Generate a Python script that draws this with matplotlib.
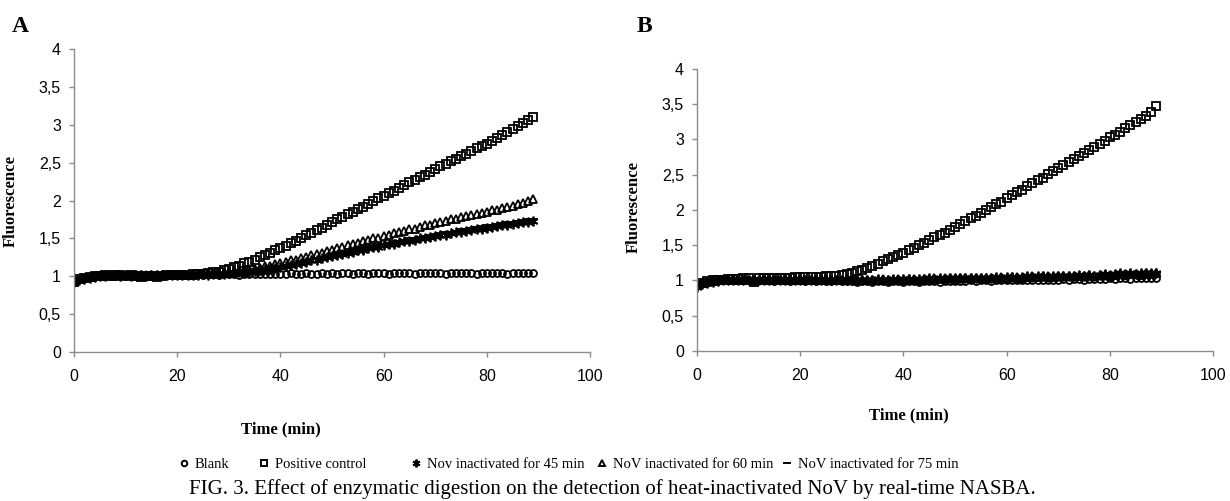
import matplotlib
matplotlib.use('Agg')
import matplotlib.pyplot as plt
from matplotlib.lines import Line2D

# readings every minute, 0..89 min
time_min = list(range(0, 90))

a_blank = [0.95, 0.97, 0.98, 0.99, 1.00, 1.00, 1.01, 1.01, 1.01, 1.02,
           1.01, 1.02, 1.01, 1.02, 1.02, 1.01, 1.02, 1.02, 1.02, 1.02,
           1.02, 1.03, 1.02, 1.02, 1.03, 1.02, 1.03, 1.03, 1.02, 1.03,
           1.03, 1.03, 1.02, 1.03, 1.03, 1.03, 1.03, 1.03, 1.03, 1.03,
           1.03, 1.03, 1.04, 1.03, 1.03, 1.04, 1.03, 1.03, 1.04, 1.03,
           1.04, 1.03, 1.04, 1.04, 1.03, 1.04, 1.04, 1.03, 1.04, 1.04,
           1.04, 1.03, 1.04, 1.04, 1.04, 1.04, 1.03, 1.04, 1.04, 1.04,
           1.04, 1.04, 1.03, 1.04, 1.04, 1.04, 1.04, 1.04, 1.03, 1.04,
           1.04, 1.04, 1.04, 1.04, 1.03, 1.04, 1.04, 1.04, 1.04, 1.04]
a_positive = [0.93, 0.96, 0.98, 0.99, 1.00, 1.00, 1.01, 1.00, 1.01, 1.01,
              1.00, 1.01, 1.00, 0.99, 1.00, 1.00, 0.99, 1.00, 1.01, 1.01,
              1.02, 1.02, 1.02, 1.03, 1.03, 1.03, 1.04, 1.05, 1.06, 1.08,
              1.10, 1.12, 1.14, 1.17, 1.19, 1.22, 1.25, 1.28, 1.31, 1.34,
              1.37, 1.40, 1.44, 1.47, 1.50, 1.54, 1.57, 1.61, 1.64, 1.68,
              1.71, 1.75, 1.78, 1.82, 1.85, 1.89, 1.92, 1.96, 1.99, 2.03,
              2.06, 2.10, 2.13, 2.17, 2.20, 2.24, 2.27, 2.31, 2.34, 2.38,
              2.41, 2.45, 2.48, 2.52, 2.55, 2.59, 2.62, 2.65, 2.69, 2.72,
              2.75, 2.79, 2.83, 2.87, 2.90, 2.94, 2.98, 3.02, 3.06, 3.10]
a_inact45 = [0.92, 0.95, 0.97, 0.98, 0.99, 1.00, 1.00, 1.01, 1.01, 1.00,
             1.01, 1.00, 1.01, 1.01, 1.00, 1.01, 1.01, 1.02, 1.01, 1.02,
             1.02, 1.01, 1.02, 1.02, 1.02, 1.03, 1.02, 1.03, 1.03, 1.03,
             1.04, 1.04, 1.05, 1.05, 1.06, 1.07, 1.08, 1.09, 1.10, 1.11,
             1.12, 1.14, 1.15, 1.16, 1.18, 1.19, 1.21, 1.22, 1.24, 1.25,
             1.27, 1.28, 1.30, 1.31, 1.32, 1.34, 1.35, 1.37, 1.38, 1.39,
             1.41, 1.42, 1.43, 1.45, 1.46, 1.47, 1.48, 1.50, 1.51, 1.52,
             1.53, 1.54, 1.55, 1.57, 1.58, 1.59, 1.60, 1.61, 1.62, 1.63,
             1.64, 1.65, 1.66, 1.67, 1.68, 1.69, 1.70, 1.71, 1.72, 1.73]
a_inact60 = [0.94, 0.96, 0.98, 0.99, 1.00, 1.00, 1.01, 1.01, 1.00, 1.01,
             1.01, 1.01, 1.00, 1.01, 1.01, 1.01, 1.01, 1.02, 1.01, 1.02,
             1.02, 1.02, 1.02, 1.02, 1.03, 1.03, 1.03, 1.03, 1.04, 1.04,
             1.05, 1.06, 1.07, 1.08, 1.09, 1.10, 1.11, 1.13, 1.14, 1.16,
             1.17, 1.19, 1.21, 1.22, 1.24, 1.26, 1.28, 1.30, 1.31, 1.33,
             1.35, 1.37, 1.39, 1.41, 1.42, 1.44, 1.46, 1.48, 1.50, 1.51,
             1.53, 1.55, 1.57, 1.58, 1.60, 1.62, 1.63, 1.65, 1.67, 1.68,
             1.70, 1.72, 1.73, 1.75, 1.76, 1.78, 1.79, 1.81, 1.82, 1.84,
             1.85, 1.87, 1.88, 1.90, 1.91, 1.93, 1.95, 1.97, 1.99, 2.02]
a_inact75 = [0.93, 0.96, 0.97, 0.99, 0.99, 1.00, 1.00, 1.01, 1.01, 1.01,
             1.01, 1.01, 1.01, 1.02, 1.01, 1.02, 1.02, 1.01, 1.02, 1.02,
             1.02, 1.02, 1.03, 1.02, 1.03, 1.03, 1.03, 1.04, 1.04, 1.04,
             1.05, 1.05, 1.06, 1.07, 1.08, 1.08, 1.09, 1.10, 1.12, 1.13,
             1.14, 1.15, 1.17, 1.18, 1.20, 1.21, 1.23, 1.24, 1.26, 1.27,
             1.29, 1.30, 1.32, 1.33, 1.35, 1.36, 1.37, 1.39, 1.40, 1.42,
             1.43, 1.44, 1.46, 1.47, 1.48, 1.50, 1.51, 1.52, 1.53, 1.55,
             1.56, 1.57, 1.58, 1.59, 1.60, 1.62, 1.63, 1.64, 1.65, 1.66,
             1.67, 1.68, 1.69, 1.70, 1.71, 1.72, 1.73, 1.74, 1.75, 1.76]

b_blank = [0.95, 0.97, 0.98, 0.99, 1.00, 1.00, 1.00, 1.01, 1.00, 1.01,
           1.00, 0.99, 1.00, 1.00, 1.00, 0.99, 1.00, 1.00, 0.99, 1.00,
           1.00, 0.99, 1.00, 0.99, 1.00, 0.99, 0.99, 1.00, 0.99, 0.99,
           0.99, 0.98, 0.99, 0.99, 0.98, 0.99, 0.99, 0.98, 0.99, 0.99,
           0.98, 0.99, 0.99, 0.98, 0.99, 0.99, 0.99, 0.98, 0.99, 0.99,
           0.99, 0.99, 0.99, 1.00, 0.99, 1.00, 1.00, 0.99, 1.00, 1.00,
           1.00, 1.00, 1.01, 1.00, 1.01, 1.01, 1.00, 1.01, 1.01, 1.01,
           1.01, 1.02, 1.01, 1.02, 1.02, 1.01, 1.02, 1.02, 1.02, 1.02,
           1.03, 1.02, 1.03, 1.03, 1.02, 1.03, 1.03, 1.03, 1.04, 1.03]
b_positive = [0.94, 0.97, 0.99, 1.00, 1.01, 1.01, 1.02, 1.02, 1.02, 1.03,
              1.03, 0.98, 1.03, 1.03, 1.04, 1.04, 1.04, 1.04, 1.04, 1.05,
              1.05, 1.05, 1.05, 1.05, 1.05, 1.06, 1.06, 1.07, 1.08, 1.09,
              1.11, 1.13, 1.15, 1.18, 1.21, 1.24, 1.27, 1.30, 1.33, 1.36,
              1.39, 1.43, 1.46, 1.50, 1.53, 1.57, 1.61, 1.64, 1.68, 1.72,
              1.76, 1.80, 1.84, 1.88, 1.92, 1.96, 2.00, 2.04, 2.08, 2.12,
              2.17, 2.21, 2.25, 2.29, 2.34, 2.38, 2.42, 2.46, 2.51, 2.55,
              2.59, 2.64, 2.68, 2.72, 2.77, 2.81, 2.85, 2.90, 2.94, 2.98,
              3.03, 3.07, 3.11, 3.16, 3.20, 3.25, 3.29, 3.34, 3.39, 3.47]
b_inact45 = [0.91, 0.95, 0.97, 0.98, 0.99, 1.00, 1.00, 1.00, 1.01, 1.00,
             1.00, 1.01, 1.00, 1.00, 1.01, 1.00, 1.00, 1.01, 1.00, 1.00,
             1.01, 1.00, 1.00, 1.01, 1.00, 1.01, 1.00, 1.01, 1.01, 1.00,
             1.01, 1.01, 1.00, 1.01, 1.01, 1.02, 1.01, 1.01, 1.02, 1.01,
             1.02, 1.02, 1.01, 1.02, 1.02, 1.03, 1.02, 1.03, 1.02, 1.03,
             1.03, 1.03, 1.04, 1.03, 1.04, 1.04, 1.03, 1.04, 1.05, 1.04,
             1.05, 1.05, 1.04, 1.05, 1.06, 1.05, 1.06, 1.06, 1.05, 1.07,
             1.06, 1.07, 1.07, 1.06, 1.08, 1.07, 1.08, 1.07, 1.08, 1.09,
             1.08, 1.09, 1.10, 1.09, 1.10, 1.09, 1.10, 1.11, 1.10, 1.11]
b_inact60 = [0.93, 0.96, 0.98, 0.99, 1.00, 1.00, 1.01, 1.00, 1.01, 1.01,
             1.01, 1.00, 1.01, 1.01, 1.00, 1.01, 1.01, 1.00, 1.01, 1.01,
             1.00, 1.01, 1.01, 1.00, 1.01, 1.00, 1.01, 1.00, 1.01, 1.01,
             1.00, 1.01, 1.01, 1.00, 1.01, 1.01, 1.02, 1.01, 1.01, 1.02,
             1.01, 1.02, 1.02, 1.01, 1.02, 1.02, 1.03, 1.02, 1.03, 1.03,
             1.02, 1.03, 1.03, 1.04, 1.03, 1.04, 1.04, 1.03, 1.04, 1.05,
             1.04, 1.05, 1.05, 1.04, 1.05, 1.06, 1.05, 1.06, 1.06, 1.05,
             1.06, 1.07, 1.06, 1.07, 1.07, 1.06, 1.08, 1.07, 1.08, 1.08,
             1.07, 1.08, 1.09, 1.08, 1.09, 1.09, 1.08, 1.10, 1.09, 1.10]
b_inact75 = [0.94, 0.96, 0.98, 0.99, 0.99, 1.00, 1.00, 1.01, 1.00, 1.01,
             1.00, 1.01, 1.01, 1.00, 1.01, 1.00, 1.01, 1.01, 1.00, 1.01,
             1.01, 1.00, 1.01, 1.01, 1.00, 1.01, 1.01, 1.01, 1.00, 1.01,
             1.01, 1.00, 1.01, 1.01, 1.02, 1.01, 1.01, 1.02, 1.01, 1.02,
             1.02, 1.01, 1.02, 1.02, 1.03, 1.02, 1.02, 1.03, 1.03, 1.02,
             1.03, 1.03, 1.04, 1.03, 1.03, 1.04, 1.04, 1.05, 1.04, 1.04,
             1.05, 1.04, 1.05, 1.05, 1.06, 1.05, 1.05, 1.06, 1.06, 1.07,
             1.06, 1.06, 1.07, 1.07, 1.06, 1.07, 1.08, 1.07, 1.07, 1.08,
             1.08, 1.07, 1.08, 1.09, 1.08, 1.09, 1.09, 1.08, 1.09, 1.10]

series_names = ['Blank', 'Positive control', 'Nov inactivated for 45 min',
                'NoV inactivated for 60 min', 'NoV inactivated for 75 min']
y_ticks = [0, 0.5, 1, 1.5, 2, 2.5, 3, 3.5, 4]
y_tick_labels = ['0', '0,5', '1', '1,5', '2', '2,5', '3', '3,5', '4']
x_ticks = [0, 20, 40, 60, 80, 100]

markers = ['o', 's', (6, 2, 0), '^', '_']
sizes = [5, 5.5, 7, 5.5, 6.5]
spine_grey = '#8c8c8c'
serif = 'Liberation Serif'
sans = 'Liberation Sans'

fig = plt.figure(figsize=(12.3, 5.01), dpi=100)
ax_a = fig.add_axes([0.0602, 0.2974, 0.4195, 0.6048])
ax_b = fig.add_axes([0.5667, 0.2994, 0.4195, 0.5629])

panels = [(ax_a, [a_blank, a_positive, a_inact45, a_inact60, a_inact75]),
          (ax_b, [b_blank, b_positive, b_inact45, b_inact60, b_inact75])]

for ax, data in panels:
    for vals, mk, ms in zip(data, markers, sizes):
        ax.plot(time_min, vals, linestyle='none', marker=mk, markersize=ms,
                markerfacecolor='none', markeredgecolor='black',
                markeredgewidth=1.3, color='black')
    ax.set_xlim(0, 100)
    ax.set_ylim(0, 4)
    ax.set_xticks(x_ticks)
    ax.set_yticks(y_ticks)
    ax.set_yticklabels(y_tick_labels)
    for side in ['top', 'right']:
        ax.spines[side].set_visible(False)
    for side in ['left', 'bottom']:
        ax.spines[side].set_color(spine_grey)
        ax.spines[side].set_linewidth(1.0)
    ax.tick_params(axis='both', colors=spine_grey, length=3.5, width=1.0,
                   labelcolor='black', labelsize=11.5)
    ax.tick_params(axis='y', pad=6)
    ax.tick_params(axis='x', pad=9)
    for lbl in ax.get_xticklabels() + ax.get_yticklabels():
        lbl.set_fontfamily(sans)
    ax.set_xlabel('Time (min)', fontfamily=serif, fontweight='bold', fontsize=12)
    ax.set_ylabel('Fluorescence', fontfamily=serif, fontweight='bold', fontsize=12)

ax_a.xaxis.set_label_coords(0.4, -0.23)
ax_a.yaxis.set_label_coords(-0.108, 0.5)
ax_b.xaxis.set_label_coords(0.41, -0.20)
ax_b.yaxis.set_label_coords(-0.108, 0.51)

fig.text(12 / 1230, 1 - 27 / 501, 'A', fontfamily=serif, fontweight='bold',
         fontsize=17, va='center', ha='left')
fig.text(637 / 1230, 1 - 27 / 501, 'B', fontfamily=serif, fontweight='bold',
         fontsize=17, va='center', ha='left')

# legend entries sit at uneven spacing in the original, so place each one
legend_x = [178, 258, 410, 596, 781]
for mk, ms, name, xp in zip(markers, sizes, series_names, legend_x):
    h = Line2D([], [], linestyle='none', marker=mk, markersize=ms * 0.8,
               markerfacecolor='none', markeredgecolor='black',
               markeredgewidth=1.4)
    fig.legend([h], [name], loc='center left', frameon=False,
               bbox_to_anchor=(xp / 1230, 1 - 464 / 501), borderaxespad=0,
               borderpad=0, handlelength=0.8, handletextpad=0.35,
               prop={'family': serif, 'size': 10.5})

fig.text(0.498, 1 - 489 / 501,
         'FIG. 3. Effect of enzymatic digestion on the detection of heat-inactivated NoV by real-time NASBA.',
         fontfamily=serif, fontsize=15, ha='center', va='center')

fig.savefig('out.png', dpi=100)
